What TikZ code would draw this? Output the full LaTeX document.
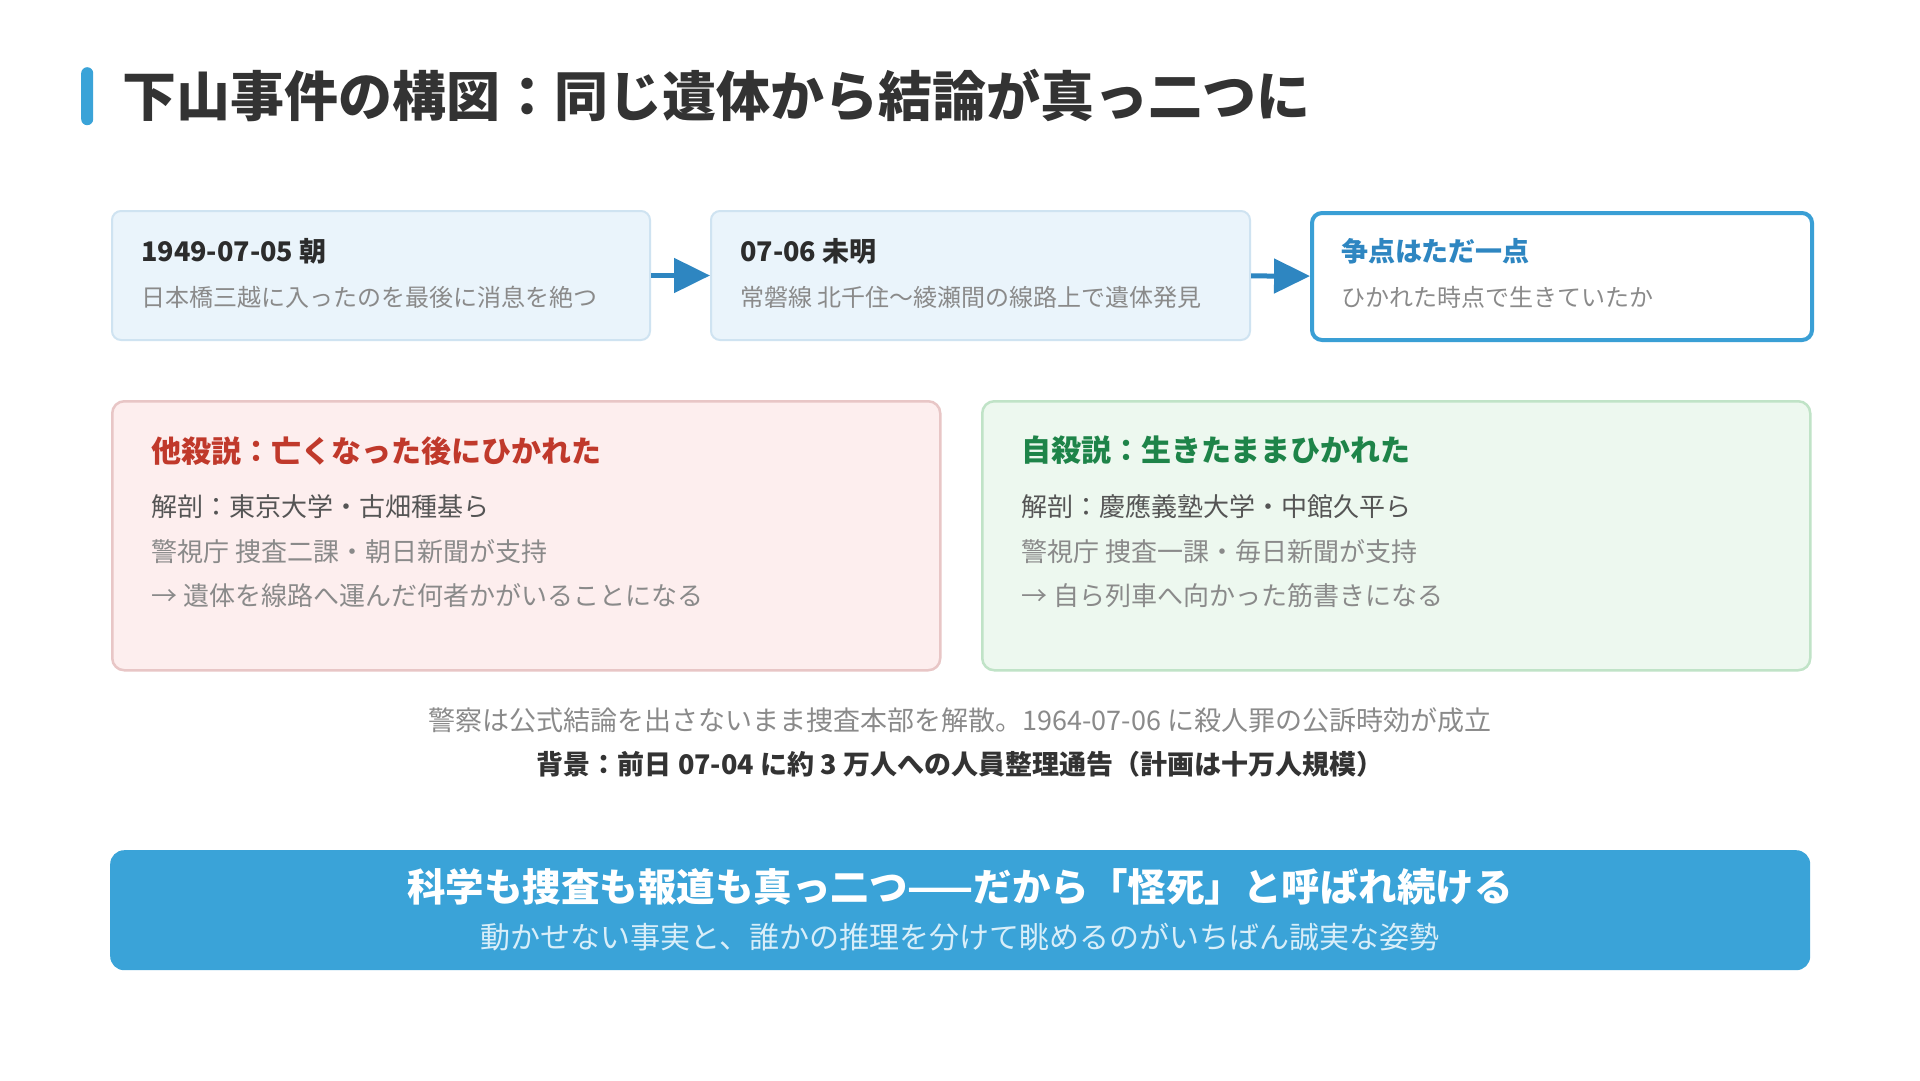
\documentclass[tikz,border=0pt]{standalone}
\usepackage{fontspec}
\setmainfont{Noto Sans CJK JP}
\usetikzlibrary{arrows.meta}
\definecolor{accent}{HTML}{3AA3D8}
\definecolor{titlec}{HTML}{333333}
\definecolor{evfill}{HTML}{EAF4FB}
\definecolor{evline}{HTML}{CFE3F1}
\definecolor{keyline}{HTML}{3A9FD5}
\definecolor{arrowc}{HTML}{2E86C1}
\definecolor{headc}{HTML}{2C2C2C}
\definecolor{subc}{HTML}{8A8A8A}
\definecolor{darkc}{HTML}{555555}
\definecolor{bluec}{HTML}{2E86C1}
\definecolor{redc}{HTML}{C0392B}
\definecolor{redfill}{HTML}{FDEEEE}
\definecolor{redline}{HTML}{E8C6C6}
\definecolor{greenc}{HTML}{1E8449}
\definecolor{greenfill}{HTML}{EDF8EF}
\definecolor{greenline}{HTML}{C0E3C7}
\definecolor{bannerc}{HTML}{3AA3D8}
\definecolor{bannersub}{HTML}{D8EEF9}
\newcommand\fsz[1]{\fontsize{#1pt}{#1pt}\selectfont}
\begin{document}
\begin{tikzpicture}[x=1pt,y=-1pt,
  txt/.style={anchor=west, inner sep=0pt},
  ctxt/.style={anchor=center, inner sep=0pt},
  evbox/.style={draw=evline, fill=evfill, line width=2pt, rounded corners=9pt, anchor=north west, inner sep=0pt, minimum height=129pt},
  keybox/.style={draw=keyline, fill=white, line width=4pt, rounded corners=10pt, anchor=north west, inner sep=0pt, minimum height=127pt},
  redbox/.style={draw=redline, fill=redfill, line width=2.5pt, rounded corners=12pt, anchor=north west, inner sep=0pt, minimum height=269pt},
  greenbox/.style={draw=greenline, fill=greenfill, line width=2.5pt, rounded corners=12pt, anchor=north west, inner sep=0pt, minimum height=269pt},
  arr/.style={draw=arrowc, line width=5pt, -{Triangle[length=36pt,width=34pt]}},
  evhead/.style={txt, text=headc, font=\fsz{27}\bfseries},
  evsub/.style={txt, text=subc, font=\fsz{24}},
  thhead/.style={txt, font=\fsz{30}\bfseries},
  thdark/.style={txt, text=darkc, font=\fsz{26}},
  thline/.style={txt, text=subc, font=\fsz{26}}
]
\useasboundingbox[fill=white] (0,0) rectangle (1920,1080);

% title
\node[fill=accent, rounded corners=6pt, minimum width=12pt, minimum height=58pt, inner sep=0pt, anchor=north west] (bar) at (81,67) {};
\node[txt, text=titlec, font=\fsz{54}\bfseries] (title) at (122.5,95) {下山事件の構図：同じ遺体から結論が真っ二つに};

% timeline boxes
\node[evbox, minimum width=538pt] (b1) at (111,210) {};
\node[evbox, minimum width=539pt] (b2) at (710,210) {};
\node[keybox, minimum width=500pt] (b3) at (1310,211) {};
\draw[arr] (b1) -- (b2);
\draw[arr] (b2) -- (b3);

\node[evhead] (h1) at (141,251) {1949-07-05 朝};
\node[evsub] (s1) at (141,297.5) {日本橋三越に入ったのを最後に消息を絶つ};
\node[evhead] (h2) at (740,251) {07-06 未明};
\node[evsub] (s2) at (740,297.5) {常磐線 北千住〜綾瀬間の線路上で遺体発見};
\node[evhead, text=bluec] (h3) at (1341,251) {争点はただ一点};
\node[evsub] (s3) at (1341,297.5) {ひかれた時点で生きていたか};

% theory boxes
\node[redbox, minimum width=828pt] (red) at (111,400) {};
\node[greenbox, minimum width=828pt] (green) at (981,400) {};

\node[thhead, text=redc] (rh) at (151,450.6) {他殺説：亡くなった後にひかれた};
\node[thdark] (r1) at (151,507) {解剖：東京大学・古畑種基ら};
\node[thline] (r2) at (151,552) {警視庁 捜査二課・朝日新聞が支持};
\node[thline] (r3) at (151,596) {→ 遺体を線路へ運んだ何者かがいることになる};

\node[thhead, text=greenc] (gh) at (1021,450.6) {自殺説：生きたままひかれた};
\node[thdark] (g1) at (1021,507) {解剖：慶應義塾大学・中館久平ら};
\node[thline] (g2) at (1021,552) {警視庁 捜査一課・毎日新聞が支持};
\node[thline] (g3) at (1021,596) {→ 自ら列車へ向かった筋書きになる};

% captions
\node[ctxt, text=subc, font=\fsz{27}] (cap1) at (960,720) {警察は公式結論を出さないまま捜査本部を解散。1964-07-06 に殺人罪の公訴時効が成立};
\node[ctxt, text=titlec, font=\fsz{27}\bfseries] (cap2) at (960,764) {背景：前日 07-04 に約 3 万人への人員整理通告（計画は十万人規模）};

% banner
\node[fill=bannerc, rounded corners=14pt, anchor=north west, inner sep=0pt, minimum width=1700pt, minimum height=120pt] (banner) at (110,850) {};
\node[ctxt, text=white, font=\fsz{38.5}\bfseries] (bt) at (960,886.5) {科学も捜査も報道も真っ二つ——だから「怪死」と呼ばれ続ける};
\node[ctxt, text=bannersub, font=\fsz{30}] (bs) at (960,937) {動かせない事実と、誰かの推理を分けて眺めるのがいちばん誠実な姿勢};
\end{tikzpicture}
\end{document}
